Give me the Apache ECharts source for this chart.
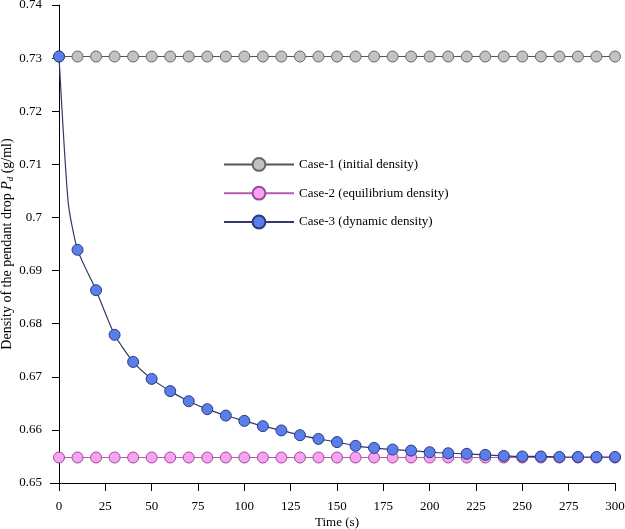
<!DOCTYPE html>
<html><head><meta charset="utf-8">
<script src="https://cdn.jsdelivr.net/npm/echarts@6/dist/echarts.min.js"></script>
<style>html,body{margin:0;padding:0;background:#fff}#c{width:625px;height:529px}</style>
</head><body><div id="c"></div>
<script>
const times = [0,10,20,30,40,50,60,70,80,90,100,110,120,130,140,150,160,170,180,190,200,210,220,230,240,250,260,270,280,290,300];
const case1 = [0.7303,0.7303,0.7303,0.7303,0.7303,0.7303,0.7303,0.7303,0.7303,0.7303,0.7303,0.7303,0.7303,0.7303,0.7303,0.7303,0.7303,0.7303,0.7303,0.7303,0.7303,0.7303,0.7303,0.7303,0.7303,0.7303,0.7303,0.7303,0.7303,0.7303,0.7303];
const case2 = [0.6548,0.6548,0.6548,0.6548,0.6548,0.6548,0.6548,0.6548,0.6548,0.6548,0.6548,0.6548,0.6548,0.6548,0.6548,0.6548,0.6548,0.6548,0.6548,0.6548,0.6548,0.6548,0.6548,0.6548,0.6548,0.6548,0.6548,0.6548,0.6548,0.6548,0.6548];
const case3 = [0.7303,0.6939,0.6863,0.6779,0.6728,0.6696,0.6673,0.6654,0.6639,0.6627,0.6617,0.6607,0.6599,0.6590,0.6583,0.6577,0.6570,0.6566,0.6563,0.6561,0.6558,0.6556,0.6555,0.6553,0.6551,0.6550,0.6550,0.6549,0.6549,0.6549,0.6549];
// unmarked intermediate point of the dynamic curve
const case3ExtraTime = [5];
const case3ExtraValue = [0.7027];
const seriesNames = ['Case-1 (initial density)','Case-2 (equilibrium density)','Case-3 (dynamic density)'];
const xMin = 0, xMax = 300, yMin = 0.65, yMax = 0.74;

const font = 'Liberation Serif';
function pairs(xs, ys){ return xs.map((x,i)=>[x, ys[i]]); }
let c3 = pairs(times, case3);
c3.splice(1, 0, {value:[case3ExtraTime[0], case3ExtraValue[0]], symbol:'none'});

const chart = echarts.init(document.getElementById('c'), null, {renderer:'canvas'});
chart.setOption({
  animation:false,
  backgroundColor:'#fff',
  textStyle:{fontFamily:font, color:'#000'},
  grid:{left:59, right:10, top:5, bottom:46, containLabel:false, outerBoundsMode:'none'},
  legend:{
    orient:'vertical', left:218, top:152, itemWidth:70, itemHeight:16, itemGap:14,
    textStyle:{fontFamily:font, fontSize:13, color:'#000'},
    data:seriesNames
  },
  xAxis:{
    type:'value', min:xMin, max:xMax, interval:25,
    name:'Time (s)', nameLocation:'middle', nameGap:33, nameMoveOverlap:false,
    nameTextStyle:{fontFamily:font, fontSize:13, color:'#000'},
    axisLine:{onZero:false, lineStyle:{color:'#000', width:1}},
    axisTick:{length:8, lineStyle:{color:'#000'}},
    axisLabel:{fontFamily:font, fontSize:13, color:'#000', margin:17},
    splitLine:{show:false}
  },
  yAxis:{
    type:'value', min:yMin, max:yMax, interval:0.01,
    name:'{a|Density of the pendant drop }{i|P}{s|d}{a| (g/ml)}', nameLocation:'middle', nameGap:44, nameMoveOverlap:false,
    nameTextStyle:{rich:{
      a:{fontFamily:font, fontSize:14, color:'#000'},
      i:{fontFamily:font, fontSize:14, color:'#000', fontStyle:'italic'},
      s:{fontFamily:font, fontSize:9, color:'#000', fontStyle:'italic', verticalAlign:'bottom', padding:[7,0,0,0]}
    }},
    axisLine:{onZero:false, lineStyle:{color:'#000', width:1}},
    axisTick:{length:7, lineStyle:{color:'#000'}},
    axisLabel:{fontFamily:font, fontSize:13, color:'#000', margin:17},
    splitLine:{show:false}
  },
  series:[
    {name:seriesNames[0], type:'line', data:pairs(times, case1), symbol:'circle', symbolSize:11,
     lineStyle:{color:'#555', width:1.2},
     itemStyle:{color:'#c2c2c2', borderColor:'#666', borderWidth:1}, z:2},
    {name:seriesNames[1], type:'line', data:pairs(times, case2), symbol:'circle', symbolSize:11,
     lineStyle:{color:'#b35cae', width:1.2},
     itemStyle:{color:'#f7a3f2', borderColor:'#9a4a98', borderWidth:1}, z:2},
    {name:seriesNames[2], type:'line', data:c3, symbol:'circle', symbolSize:11, smooth:0.2,
     lineStyle:{color:'#33386a', width:1.2},
     itemStyle:{color:'#5a7fea', borderColor:'#2b3a80', borderWidth:1}, z:3}
  ]
});
// small axis overshoot past the origin, as in the reference
const o = chart.convertToPixel({gridIndex:0}, [xMin, yMin]);
chart.setOption({graphic:[
  {type:'line', shape:{x1:o[0]-9, y1:o[1]+0.5, x2:o[0], y2:o[1]+0.5}, style:{stroke:'#000', lineWidth:1}},
  {type:'line', shape:{x1:o[0]+0.5, y1:o[1], x2:o[0]+0.5, y2:o[1]+8}, style:{stroke:'#000', lineWidth:1}}
]});
</script></body></html>
